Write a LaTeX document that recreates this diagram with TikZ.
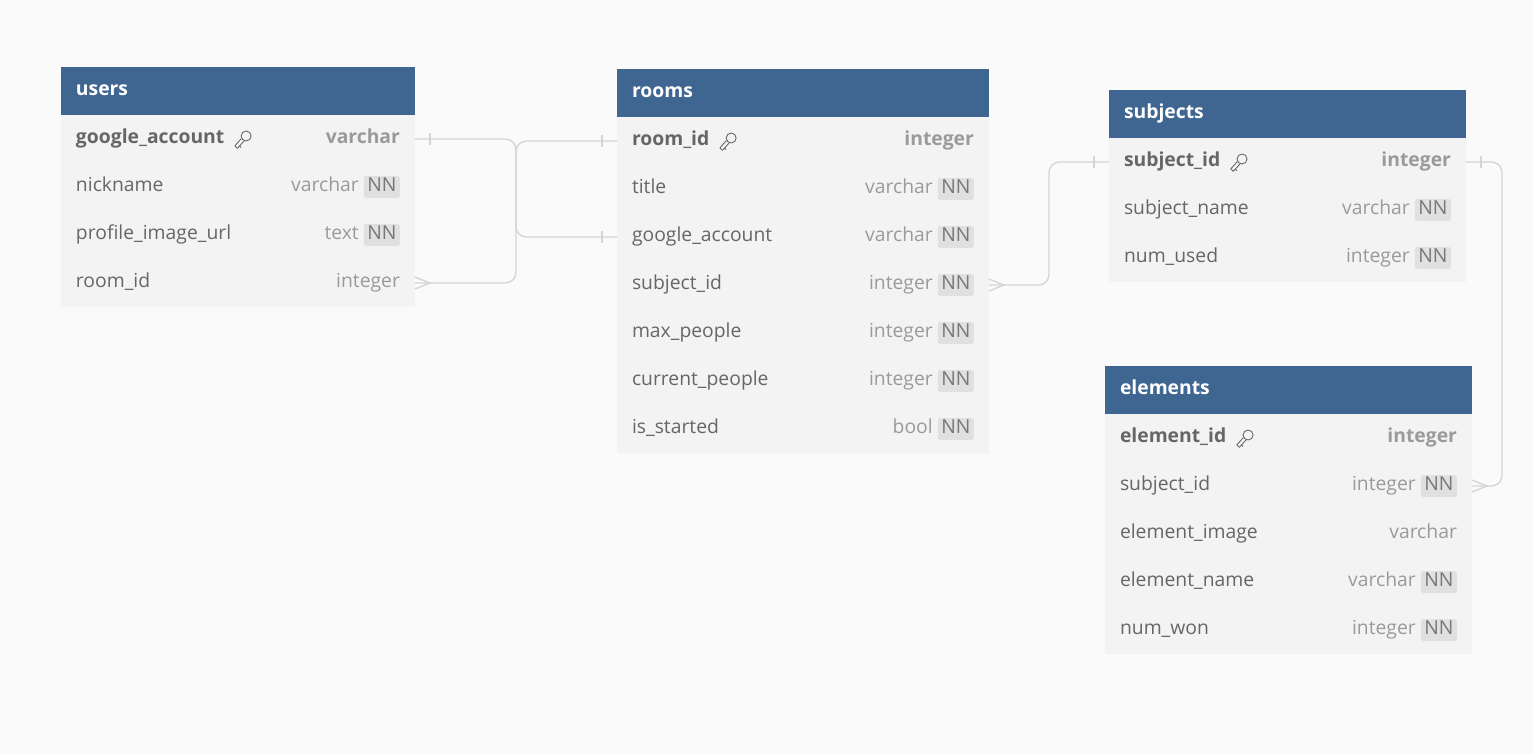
\documentclass[tikz,border=0pt]{standalone}
\usepackage{fontspec}
\setmainfont{Open Sans}
\usetikzlibrary{positioning}
\definecolor{headblue}{HTML}{3F6591}
\definecolor{rowgray}{HTML}{F3F3F3}
\definecolor{pagegray}{HTML}{FAFAFA}
\definecolor{nametext}{HTML}{666666}
\definecolor{typetext}{HTML}{9A9A9A}
\definecolor{nnfill}{HTML}{E0E0E0}
\definecolor{nntext}{HTML}{777777}
\definecolor{linkgray}{HTML}{D4D4D4}

% one field of a table: table, row, name, type, NN flag (1/0)
\newcommand{\erfield}[5]{%
  \node[fname] at ([xshift=0.3cm]#1-#2.west) {#3};
  \ifnum#5=1
    \node[nnbadge] (#1-#2-nn) at ([xshift=-0.3cm]#1-#2.east) {NN};
    \node[ftype] at ([xshift=-0.1cm]#1-#2-nn.west) {#4};
  \else
    \node[ftype] at ([xshift=-0.3cm]#1-#2.east) {#4};
  \fi}

\begin{document}
\begin{tikzpicture}[
    x=0.02cm, y=-0.02cm,
    every node/.style={font=\fontsize{11}{13}\selectfont, inner sep=0pt, outer sep=0pt},
    tblhead/.style={rectangle, fill=headblue, minimum height=0.96cm, anchor=north west},
    tbltitle/.style={anchor=west, text=white, font=\fontsize{11}{13}\selectfont\bfseries,
        text height=8pt, text depth=2.6pt},
    tblrow/.style={rectangle, fill=rowgray, minimum height=0.96cm, anchor=north west},
    fname/.style={anchor=west, text=nametext, text height=8pt, text depth=2.6pt},
    ftype/.style={anchor=east, text=typetext, text height=8pt, text depth=2.6pt},
    pkname/.style={anchor=west, text=nametext, font=\fontsize{11}{13}\selectfont\bfseries,
        text height=8pt, text depth=2.6pt},
    pktype/.style={anchor=east, text=typetext, font=\fontsize{11}{13}\selectfont\bfseries,
        text height=8pt, text depth=2.6pt},
    nnbadge/.style={anchor=east, fill=nnfill, text=nntext, rounded corners=1.5pt,
        minimum height=0.44cm, inner xsep=2pt, text height=8pt, text depth=2.6pt},
    link/.style={draw=linkgray, line width=0.75pt},
    pkkey/.pic={
        \draw[nametext, line width=0.5pt] (13,-3) circle (5);
        \draw[nametext, line width=0.5pt, line join=round]
            (11,1.9) -- (4.3,9.3) -- (1.7,6.9) -- (8.3,-0.5);
        \draw[nametext, line width=0.5pt] (6.3,7) -- (7.9,8.6);
    }
]
    \fill[pagegray] (0,0) rectangle (1533,754);
    \useasboundingbox (0,0) rectangle (1533,754);

    % === USERS ===
    \node[tblhead, minimum width=7.08cm] (users) at (61,67) {};
    \node[tbltitle] at ([xshift=0.3cm]users.west) {users};
    \node[tblrow, minimum width=7.08cm] (users-1) at (61,115) {};
    \node[pkname] (users-1-name) at ([xshift=0.3cm]users-1.west) {google\_account};
    \pic at ([xshift=5]users-1-name.east) {pkkey};
    \node[pktype] at ([xshift=-0.3cm]users-1.east) {varchar};
    \foreach \nm/\ty/\nn [count=\i from 2] in {nickname/varchar/1, profile\_image\_url/text/1, room\_id/integer/0} {
        \node[tblrow, minimum width=7.08cm] (users-\i) at (61,{115+48*(\i-1)}) {};
        \erfield{users}{\i}{\nm}{\ty}{\nn}
    }

    % === ROOMS ===
    \node[tblhead, minimum width=7.44cm] (rooms) at (617,69) {};
    \node[tbltitle] at ([xshift=0.3cm]rooms.west) {rooms};
    \node[tblrow, minimum width=7.44cm] (rooms-1) at (617,117) {};
    \node[pkname] (rooms-1-name) at ([xshift=0.3cm]rooms-1.west) {room\_id};
    \pic at ([xshift=5]rooms-1-name.east) {pkkey};
    \node[pktype] at ([xshift=-0.3cm]rooms-1.east) {integer};
    \foreach \nm/\ty/\nn [count=\i from 2] in {title/varchar/1, google\_account/varchar/1, subject\_id/integer/1,
        max\_people/integer/1, current\_people/integer/1, is\_started/bool/1} {
        \node[tblrow, minimum width=7.44cm] (rooms-\i) at (617,{117+48*(\i-1)}) {};
        \erfield{rooms}{\i}{\nm}{\ty}{\nn}
    }

    % === SUBJECTS ===
    \node[tblhead, minimum width=7.14cm] (subjects) at (1109,90) {};
    \node[tbltitle] at ([xshift=0.3cm]subjects.west) {subjects};
    \node[tblrow, minimum width=7.14cm] (subjects-1) at (1109,138) {};
    \node[pkname] (subjects-1-name) at ([xshift=0.3cm]subjects-1.west) {subject\_id};
    \pic at ([xshift=5]subjects-1-name.east) {pkkey};
    \node[pktype] at ([xshift=-0.3cm]subjects-1.east) {integer};
    \foreach \nm/\ty/\nn [count=\i from 2] in {subject\_name/varchar/1, num\_used/integer/1} {
        \node[tblrow, minimum width=7.14cm] (subjects-\i) at (1109,{138+48*(\i-1)}) {};
        \erfield{subjects}{\i}{\nm}{\ty}{\nn}
    }

    % === ELEMENTS ===
    \node[tblhead, minimum width=7.34cm] (elements) at (1105,366) {};
    \node[tbltitle] at ([xshift=0.3cm]elements.west) {elements};
    \node[tblrow, minimum width=7.34cm] (elements-1) at (1105,414) {};
    \node[pkname] (elements-1-name) at ([xshift=0.3cm]elements-1.west) {element\_id};
    \pic at ([xshift=5]elements-1-name.east) {pkkey};
    \node[pktype] at ([xshift=-0.3cm]elements-1.east) {integer};
    \foreach \nm/\ty/\nn [count=\i from 2] in {subject\_id/integer/1, element\_image/varchar/0,
        element\_name/varchar/1, num\_won/integer/1} {
        \node[tblrow, minimum width=7.34cm] (elements-\i) at (1105,{414+48*(\i-1)}) {};
        \erfield{elements}{\i}{\nm}{\ty}{\nn}
    }

    % === RELATIONS ===
    % users.google_account -- rooms.google_account
    \draw[link, rounded corners=6pt] (users-1.east) -- ++(101,0) |- (rooms-3.west);
    \draw[link] ([shift={(15,-6)}]users-1.east) -- ([shift={(15,6)}]users-1.east);
    \draw[link] ([shift={(-15,-6)}]rooms-3.west) -- ([shift={(-15,6)}]rooms-3.west);

    % users.room_id >- rooms.room_id
    \draw[link, rounded corners=6pt] (users-4.east) -- ++(101,0) |- (rooms-1.west);
    \draw[link] ([shift={(0,-6)}]users-4.east) -- ([shift={(15,0)}]users-4.east) -- ([shift={(0,6)}]users-4.east);
    \draw[link] ([shift={(-15,-6)}]rooms-1.west) -- ([shift={(-15,6)}]rooms-1.west);

    % rooms.subject_id >- subjects.subject_id
    \draw[link, rounded corners=6pt] (rooms-4.east) -- ++(60,0) |- (subjects-1.west);
    \draw[link] ([shift={(0,-6)}]rooms-4.east) -- ([shift={(15,0)}]rooms-4.east) -- ([shift={(0,6)}]rooms-4.east);
    \draw[link] ([shift={(-15,-6)}]subjects-1.west) -- ([shift={(-15,6)}]subjects-1.west);

    % subjects.subject_id -< elements.subject_id
    \draw[link, rounded corners=6pt] (subjects-1.east) -- ++(36,0) |- (elements-2.east);
    \draw[link] ([shift={(15,-6)}]subjects-1.east) -- ([shift={(15,6)}]subjects-1.east);
    \draw[link] ([shift={(0,-6)}]elements-2.east) -- ([shift={(15,0)}]elements-2.east) -- ([shift={(0,6)}]elements-2.east);
\end{tikzpicture}
\end{document}
